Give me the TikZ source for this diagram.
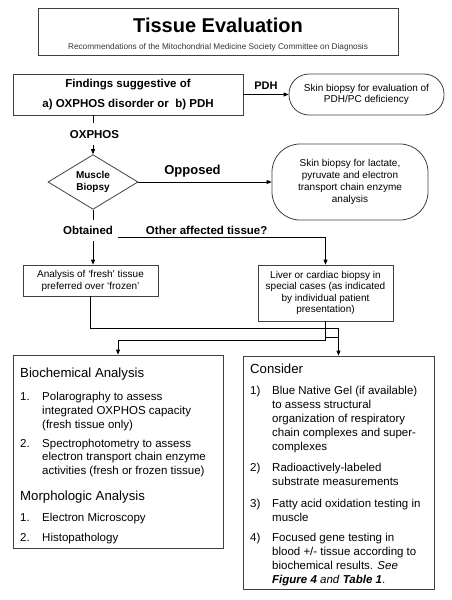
\documentclass[tikz,border=0pt]{standalone}
\usepackage{fontspec}
\setmainfont{Liberation Sans}
\usetikzlibrary{shapes.geometric,arrows.meta,calc}

\newcommand{\fsz}[2]{\fontsize{#1}{#2}\selectfont}
\newcommand{\itemlines}[1]{\begin{tabular}[t]{@{}l@{}}#1\end{tabular}}

\begin{document}
\begin{tikzpicture}[x=1pt,y=-1pt,
  box/.style={draw=black!75,line width=0.8pt,align=center,inner sep=0pt,font=\fsz{10}{12}},
  pill/.style={box,rounded corners=#1},
  lbl/.style={font=\bfseries\fsz{11.5}{14},inner sep=0pt},
  head/.style={anchor=base west,inner sep=0pt,font=\fsz{13.2}{16}},
  item/.style={anchor=base west,inner sep=0pt,font=\fsz{11.5}{13.9}},
  arr/.style={-{Triangle[length=5pt,width=4pt]},line width=0.8pt},
  line/.style={line width=0.8pt}]
\useasboundingbox (0,0) rectangle (451,600);

% title
\node[box,minimum width=360pt,minimum height=47pt] (title) at (218,31.5) {};
\node[font=\bfseries\fsz{20}{24},anchor=base,inner sep=0pt] (titletext) at (218,32.3) {Tissue Evaluation};
\node[font=\fsz{8.25}{10},text=black!80,anchor=base,inner sep=0pt] (subtitle) at (218,49.3) {Recommendations of the Mitochondrial Medicine Society Committee on Diagnosis};

% top of the chart
\node[box,minimum width=230pt,minimum height=41pt,font=\bfseries\fsz{11.5}{20}] (findings) at (128,94.5) {Findings suggestive of\\a) OXPHOS disorder or~~b) PDH};
\node[pill=20pt,minimum width=155pt,minimum height=41pt,font=\fsz{10}{11.5}] (skinpdh) at (366.5,94.5) {Skin biopsy for evaluation of\\PDH/PC deficiency};
\node[lbl,font=\bfseries\fsz{11}{14},anchor=base] (pdh) at (266,89) {PDH};
\draw[arr] (findings.east) -- (skinpdh.west);

\node[diamond,draw=black!75,line width=0.8pt,minimum width=90pt,minimum height=54pt,inner sep=0pt,align=center,font=\bfseries\fsz{10}{11.5}] (biopsy) at (93,182) {Muscle\\Biopsy};
\node[lbl,inner ysep=7pt] (oxphos) at (94.5,134.2) {OXPHOS};
\draw[line] (findings.south -| biopsy.north) -- (oxphos.north -| biopsy.north);
\draw[arr] (oxphos.south -| biopsy.north) -- (biopsy.north);

\node[pill=28pt,minimum width=156pt,minimum height=76pt,font=\fsz{10}{12}] (skinlab) at (350,182) {Skin biopsy for lactate,\\pyruvate and electron\\transport chain enzyme\\analysis};
\node[font=\bfseries\fsz{13}{16},inner sep=0pt,anchor=base] (opposed) at (192.5,174) {Opposed};
\draw[arr] (biopsy.east) -- (skinlab.west);

% obtained
\node[lbl,inner ysep=6pt] (obtained) at (88,230.5) {Obtained};
\node[lbl,anchor=base] (other) at (206.7,234.3) {Other affected tissue?};
\node[box,minimum width=135pt,minimum height=31pt] (fresh) at (90.5,280.5) {Analysis of ‘fresh’ tissue\\preferred over ‘frozen’};
\node[box,minimum width=135pt,minimum height=56pt,font=\fsz{10}{11.4}] (liver) at (325.5,293) {Liver or cardiac biopsy in\\special cases (as indicated\\by individual patient\\presentation)};
\coordinate (fork) at (118,237.3);
\draw[line] (biopsy.south) -- (obtained.north -| biopsy.south);
\draw[arr] (obtained.south -| biopsy.south) -- (fresh.north -| biopsy.south);
\draw[arr] (fork) -| (liver.north);

% result boxes
\node[box,minimum width=210pt,minimum height=193pt] (biochem) at (118,451.5) {};
\node[box,minimum width=191pt,minimum height=233pt] (consider) at (338.5,472.5) {};
\draw[arr] (fresh.south) -- ++(0,32) -| (consider.north);
\draw[arr] (liver.south) -- ++(0,19) -| (biochem.north);
\draw[line] ($(liver.south)+(0,16)$) -| ($(consider.north)+(0,-28)$);

% biochemical analysis
\node[head] (bioh) at (20,377) {Biochemical Analysis};
\node[item] (bio1n) at (20,400.5) {1.};
\node[item] (bio1) at (42,400.5) {\itemlines{Polarography to assess\\integrated OXPHOS capacity\\(fresh tissue only)}};
\node[item] (bio2n) at (20,447) {2.};
\node[item] (bio2) at (42,447) {\itemlines{Spectrophotometry to assess\\electron transport chain enzyme\\activities (fresh or frozen tissue)}};
\node[head] (morh) at (20,500) {Morphologic Analysis};
\node[item] (mor1n) at (20,521.5) {1.};
\node[item] (mor1) at (42,521.5) {Electron Microscopy};
\node[item] (mor2n) at (20,541.7) {2.};
\node[item] (mor2) at (42,541.7) {Histopathology};

% consider
\node[head] (conh) at (250,373) {Consider};
\node[item] (con1n) at (250,394.5) {1)};
\node[item] (con1) at (272,394.5) {\itemlines{Blue Native Gel (if available)\\to assess structural\\organization of respiratory\\chain complexes and super-\\complexes}};
\node[item] (con2n) at (250,471.7) {2)};
\node[item] (con2) at (272,471.7) {\itemlines{Radioactively-labeled\\substrate measurements}};
\node[item] (con3n) at (250,507.3) {3)};
\node[item] (con3) at (272,507.3) {\itemlines{Fatty acid oxidation testing in\\muscle}};
\node[item] (con4n) at (250,541.7) {4)};
\node[item] (con4) at (272,541.7) {\itemlines{Focused gene testing in\\blood +/- tissue according to\\biochemical results. \textit{See}\\\textbf{\textit{Figure 4}} \textit{and} \textbf{\textit{Table 1}}.}};
\end{tikzpicture}
\end{document}
